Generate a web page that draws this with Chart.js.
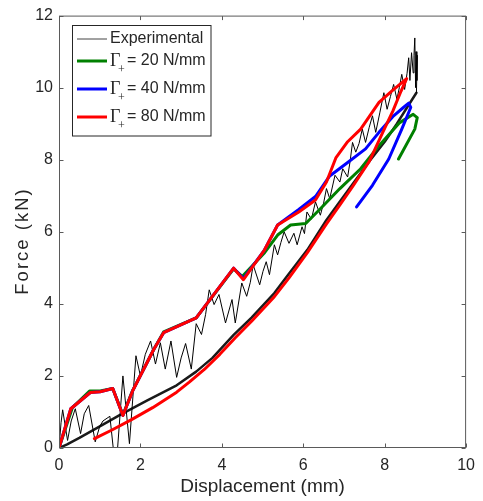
<!DOCTYPE html>
<html>
<head>
<meta charset="utf-8">
<script src="https://cdn.jsdelivr.net/npm/chart.js@4.4.1/dist/chart.umd.min.js"></script>
<style>
  body { margin: 0; background: #fff; }
  #wrap { width: 483px; height: 501px; }
</style>
</head>
<body>
<div id="wrap"><canvas id="Chart"></canvas></div>
<script>
// experimental loading (oscillating branch)
const expLoadX = [0, 0.05, 0.09, 0.21, 0.3, 0.4, 0.53, 0.62, 0.73, 0.89, 1.0, 1.08, 1.25, 1.36, 1.42, 1.57, 1.73, 1.89, 2.0, 2.12, 2.25, 2.37, 2.49, 2.61, 2.75, 2.89, 3.0, 3.11, 3.25, 3.37, 3.5, 3.6, 3.69, 3.81, 3.93, 4.09, 4.25, 4.33, 4.49, 4.61, 4.7, 4.77, 4.93, 5.01, 5.09, 5.17, 5.29, 5.37, 5.45, 5.53, 5.65, 5.77, 5.85, 5.97, 6.03, 6.09, 6.2, 6.3, 6.42, 6.5, 6.57, 6.65, 6.78, 6.9, 6.97, 7.09, 7.15, 7.21, 7.29, 7.37, 7.45, 7.53, 7.62, 7.7, 7.78, 7.88, 7.98, 8.06, 8.14, 8.22, 8.3, 8.36, 8.42, 8.49, 8.55, 8.59, 8.62, 8.66, 8.7, 8.72, 8.74, 8.76, 8.77, 8.79, 8.8, 8.78];
const expLoadY = [0, 0.7, 1.06, 0.21, 0.75, 1.09, 0.4, 0.95, 1.18, 0.17, 0.6, 0.75, 0.88, -0.3, -0.3, 2.0, 0.12, 2.56, 2.0, 2.6, 2.97, 2.33, 2.92, 2.19, 2.97, 1.96, 2.5, 2.9, 2.19, 3.45, 3.15, 3.7, 4.39, 3.98, 4.26, 3.47, 4.12, 3.47, 4.58, 4.21, 4.6, 5.08, 4.53, 4.9, 5.17, 4.81, 5.64, 5.36, 5.7, 6.0, 5.68, 5.96, 5.64, 6.14, 5.95, 6.55, 6.35, 6.83, 6.46, 6.8, 7.2, 6.92, 7.57, 7.38, 7.75, 7.52, 7.95, 8.48, 8.21, 8.45, 8.85, 8.48, 8.9, 9.22, 8.76, 9.3, 9.86, 9.4, 9.75, 10.09, 9.68, 10.0, 10.37, 9.95, 10.4, 10.83, 10.2, 10.97, 10.41, 10.9, 11.38, 10.0, 11.0, 10.2, 10.9, 9.86];
// experimental unloading (dense band)
const expUnloadX = [8.78, 8.55, 8.3, 8.0, 7.62, 7.21, 6.9, 6.57, 6.1, 5.61, 5.29, 4.73, 4.29, 3.77, 3.37, 2.89, 2.17, 1.5, 0.97, 0.5, 0.2, 0];
const expUnloadY = [9.86, 9.45, 9.0, 8.5, 7.95, 7.32, 6.84, 6.33, 5.5, 4.78, 4.3, 3.62, 3.14, 2.5, 2.12, 1.74, 1.32, 0.92, 0.58, 0.28, 0.1, 0];

// model, Gamma+ = 20 N/mm
const g20X = [0, 0.33, 0.75, 1.01, 1.32, 1.57, 1.81, 2.33, 2.57, 3.37, 4.29, 4.5, 5.05, 5.37, 5.69, 6.06, 6.42, 6.9, 7.41, 7.86, 8.37, 8.7, 8.8, 8.74, 8.34];
const g20Y = [0, 1.12, 1.58, 1.58, 1.65, 0.92, 1.6, 2.74, 3.22, 3.61, 4.97, 4.76, 5.42, 5.91, 6.19, 6.23, 6.64, 7.2, 7.75, 8.39, 9.03, 9.26, 9.17, 8.85, 8.02];
// model, Gamma+ = 40 N/mm
const g40X = [0, 0.29, 0.77, 1.01, 1.32, 1.57, 1.81, 2.33, 2.57, 3.37, 4.29, 4.53, 5.05, 5.37, 5.89, 6.3, 6.65, 7.05, 7.53, 7.86, 8.22, 8.46, 8.59, 8.64, 8.42, 8.1, 7.7, 7.31];
const g40Y = [0, 1.09, 1.54, 1.56, 1.65, 0.9, 1.59, 2.74, 3.2, 3.61, 4.99, 4.7, 5.5, 6.19, 6.62, 6.98, 7.55, 7.89, 8.3, 8.76, 9.22, 9.45, 9.57, 9.45, 8.85, 8.02, 7.29, 6.69];
// model, Gamma+ = 80 N/mm (loading then unloading)
const g80X = [0, 0.29, 0.77, 1.01, 1.32, 1.57, 1.81, 2.33, 2.57, 3.37, 4.29, 4.53, 5.05, 5.37, 5.89, 6.3, 6.57, 6.8, 7.09, 7.41, 7.86, 8.18, 8.54,
              8.4, 8.2, 7.95, 7.62, 7.21, 6.9, 6.57, 6.1, 5.65, 5.29, 4.73, 4.33, 3.95, 3.57, 3.2, 2.89, 2.3, 1.77, 1.3, 0.87];
const g80Y = [0, 1.09, 1.54, 1.56, 1.65, 0.9, 1.59, 2.74, 3.2, 3.61, 4.99, 4.67, 5.5, 6.19, 6.55, 6.88, 7.38, 8.05, 8.5, 8.85, 9.59, 9.91, 10.25,
              9.9, 9.35, 8.75, 7.95, 7.25, 6.75, 6.22, 5.42, 4.72, 4.2, 3.52, 3.06, 2.6, 2.18, 1.83, 1.55, 1.12, 0.78, 0.5, 0.26];

const xTicks = [0, 2, 4, 6, 8, 10];
const yTicks = [0, 2, 4, 6, 8, 10, 12];
const legendNames = ['Experimental', '= 20 N/mm', '= 40 N/mm', '= 80 N/mm'];

function pts(xs, ys) {
    return xs.map((x, i) => ({ x: x, y: ys[i] }));
}

const sans = "'Liberation Sans', Arial, Helvetica, sans-serif";
const axisCol = '#262626';

const frame = {
    id: 'frame',
    afterDraw(chart) {
        const { ctx, chartArea: a, scales } = chart;
        const L = a.left + 0.5, R = a.right - 0.5, T = a.top + 0.5, B = a.bottom - 0.5;
        ctx.save();
        ctx.strokeStyle = '#5a5a5a';
        ctx.lineWidth = 1;
        ctx.strokeRect(L, T, R - L, B - T);
        ctx.beginPath();
        xTicks.forEach(v => {
            const p = Math.round(scales.x.getPixelForValue(v)) + 0.5;
            ctx.moveTo(p, B); ctx.lineTo(p, B - 4);
            ctx.moveTo(p, T); ctx.lineTo(p, T + 4);
        });
        yTicks.forEach(v => {
            const p = Math.round(scales.y.getPixelForValue(v)) + 0.5;
            ctx.moveTo(L, p); ctx.lineTo(L + 4, p);
            ctx.moveTo(R, p); ctx.lineTo(R - 4, p);
        });
        ctx.stroke();

        // y axis title
        ctx.save();
        ctx.translate(23, 241);
        ctx.rotate(-Math.PI / 2);
        ctx.fillStyle = axisCol;
        ctx.font = '18.5px ' + sans;
        ctx.letterSpacing = '2px';
        ctx.textAlign = 'center';
        ctx.textBaseline = 'middle';
        ctx.fillText('Force (kN)', 0, 0);
        ctx.restore();

        // legend box
        const bx = 72.5, by = 25.5, bw = 138.5, bh = 110.5;
        ctx.fillStyle = '#fff';
        ctx.fillRect(bx, by, bw, bh);
        ctx.strokeStyle = '#262626';
        ctx.lineWidth = 1;
        ctx.strokeRect(bx, by, bw, bh);
        const rows = [39, 61, 89, 117];
        const cols = ['#444', '#008000', '#0000ff', '#ff0000'];
        const widths = [1, 3, 3, 3];
        rows.forEach((ry, i) => {
            ctx.strokeStyle = cols[i];
            ctx.lineWidth = widths[i];
            ctx.beginPath();
            ctx.moveTo(77, ry); ctx.lineTo(107, ry);
            ctx.stroke();
            ctx.fillStyle = axisCol;
            ctx.textBaseline = 'middle';
            ctx.textAlign = 'left';
            if (i === 0) {
                ctx.font = '16px ' + sans;
                ctx.fillText(legendNames[0], 110, ry);
            } else {
                ctx.font = '18px "Liberation Serif", "Times New Roman", serif';
                ctx.fillText('\u0393', 110, ry);
                ctx.font = '12px "Liberation Serif", "Times New Roman", serif';
                ctx.fillText('+', 118, ry + 9);
                ctx.font = '16px ' + sans;
                ctx.fillText(legendNames[i], 127, ry);
            }
        });
        ctx.restore();
    }
};

const ctx = document.getElementById('Chart').getContext('2d');
const myChart = new Chart(ctx, {
    type: 'line',
    data: {
        datasets: [
            { label: 'Γ+ = 80 N/mm', data: pts(g80X, g80Y), borderColor: '#ff0000', borderWidth: 3, order: 0 },
            { label: 'Γ+ = 40 N/mm', data: pts(g40X, g40Y), borderColor: '#0000ff', borderWidth: 3, order: 1 },
            { label: 'Γ+ = 20 N/mm', data: pts(g20X, g20Y), borderColor: '#008000', borderWidth: 3, order: 2 },
            { label: 'Experimental', data: pts(expLoadX, expLoadY), borderColor: '#000', borderWidth: 1, order: 3 },
            { label: 'Experimental unloading', data: pts(expUnloadX, expUnloadY), borderColor: '#1a1a1a', borderWidth: 2.5, order: 4 }
        ]
    },
    options: {
        responsive: true,
        maintainAspectRatio: false,
        animation: false,
        elements: {
            point: { radius: 0 },
            line: { tension: 0, fill: false, borderJoinStyle: 'round', borderCapStyle: 'round' }
        },
        layout: { padding: { top: 12, right: 7, left: 0, bottom: 0 } },
        plugins: {
            legend: { display: false },
            tooltip: { enabled: false }
        },
        scales: {
            x: {
                type: 'linear',
                min: 0, max: 10,
                grid: { display: false, drawTicks: false },
                border: { display: false },
                ticks: { stepSize: 2, padding: 8, color: axisCol, font: { family: sans, size: 16 } },
                title: { display: true, text: 'Displacement (mm)', color: axisCol, font: { family: sans, size: 19 }, padding: { top: 0, bottom: 3 } },
                afterFit(scale) { scale.height = 53; }
            },
            y: {
                type: 'linear',
                min: 0, max: 12,
                grid: { display: false, drawTicks: false },
                border: { display: false },
                ticks: { stepSize: 2, padding: 6, color: axisCol, font: { family: sans, size: 16 } },
                afterFit(scale) { scale.width = 59; }
            }
        }
    },
    plugins: [frame]
});
</script>
</body>
</html>
